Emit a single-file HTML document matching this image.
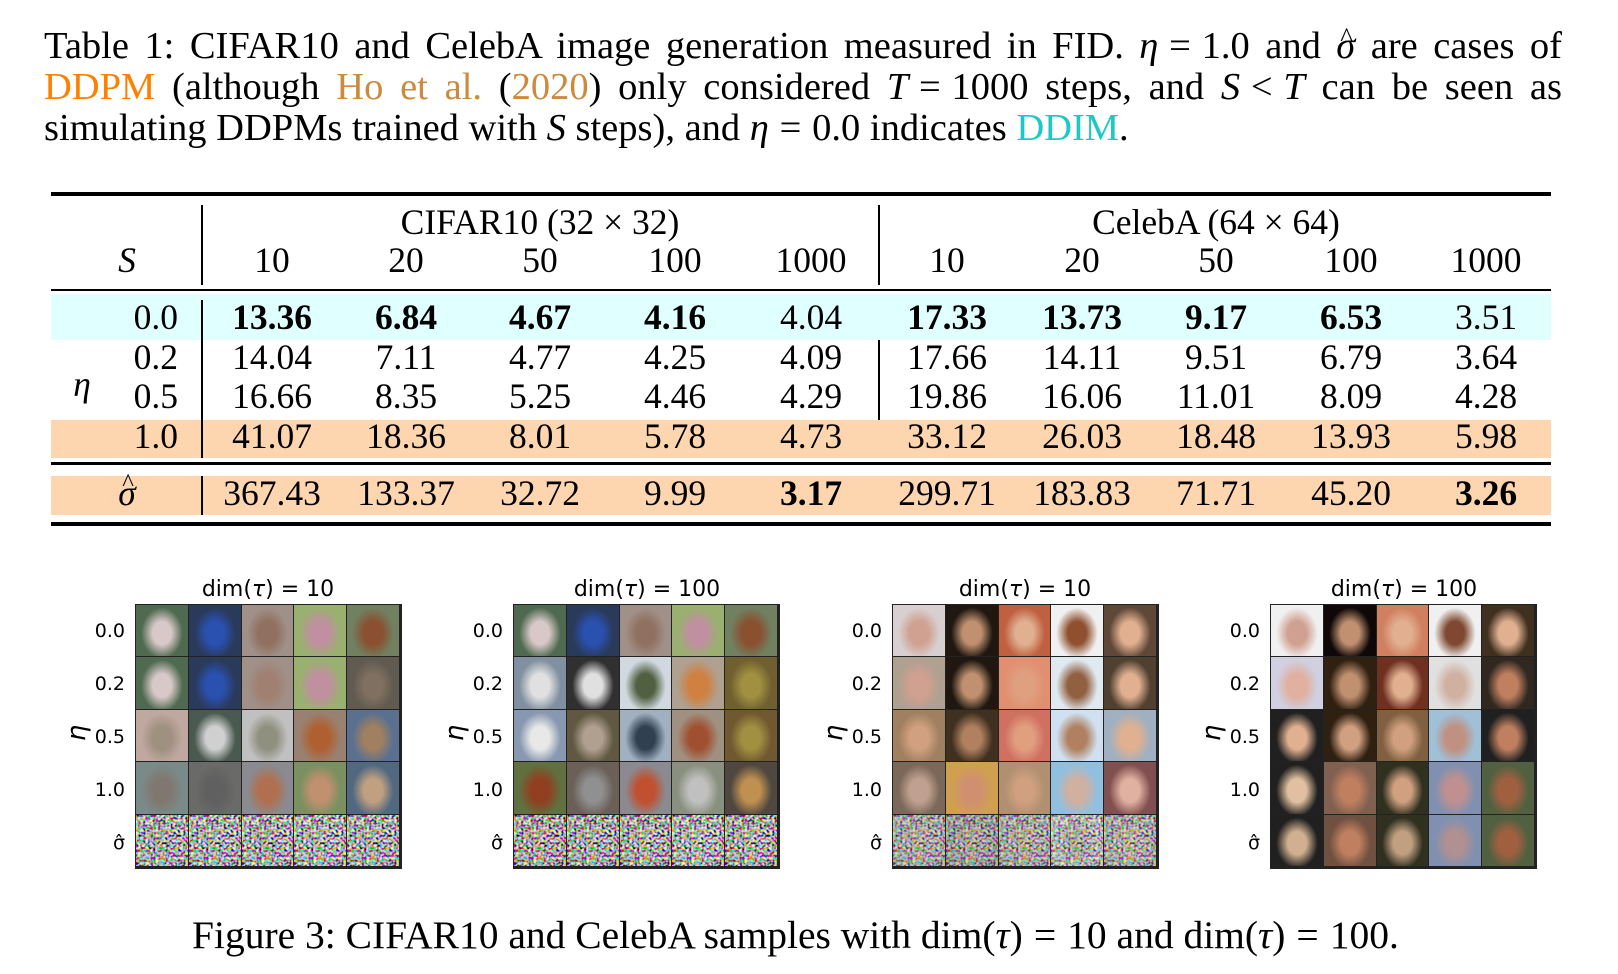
<!DOCTYPE html>
<html><head><meta charset="utf-8">
<style>
html,body{margin:0;padding:0;background:#fff;}
#page{position:relative;width:1618px;height:974px;overflow:hidden;font-family:"Liberation Serif",serif;color:#000;}
.cl{position:absolute;left:44px;width:1518px;font-size:38.5px;line-height:41px;text-align:justify;text-align-last:justify;white-space:nowrap}
.i{font-style:italic}
.op{margin:0 0.28em}
.or{color:#ff8000}.br{color:#cc8a3c}.cy{color:#1ec8c8}
.hat{position:relative;display:inline-block;font-style:italic}
.hat::after{content:"^";position:absolute;left:4px;top:-9px;font-style:normal;font-size:0.7em}
.rule{position:absolute;left:51px;width:1500px;background:#000}
.band{position:absolute;left:51px;width:1500px}
.vl{position:absolute;width:1.5px;background:#000}
.t{position:absolute;font-size:35.5px;line-height:38px;transform:translateX(-50%);white-space:nowrap}
.b{font-weight:bold}
.rl{position:absolute;font-size:35.5px;line-height:38px;right:1440px;white-space:nowrap}
.ptitle{position:absolute;font-family:"DejaVu Sans",sans-serif;font-size:22px;transform:translateX(-50%);white-space:nowrap;top:577px}
.plab{position:absolute;font-family:"DejaVu Sans",sans-serif;font-size:19px;line-height:22px;text-align:right;width:44px}
.peta{position:absolute;font-family:"DejaVu Sans",sans-serif;font-size:26px;font-style:italic;transform:rotate(-90deg)}
.grid{position:absolute;top:604px;width:267px;height:265px;border:1.5px solid #222;box-sizing:border-box;background:#222}
.fcap{position:absolute;left:192px;top:915px;font-size:39.5px;line-height:40px;white-space:nowrap}
</style></head>
<body>
<div id="page">
<div>
<div class="cl" style="top:26px">Table 1: CIFAR10 and CelebA image generation measured in FID. <span class="i">η</span><span class="op">=</span>1.0 and <span class="hat">σ</span> are cases of</div>
<div class="cl" style="top:67px"><span class="or">DDPM</span> (although <span class="br">Ho et al.</span> (<span class="br">2020</span>) only considered <span class="i">T</span><span class="op">=</span>1000 steps, and <span class="i">S</span><span class="op">&lt;</span><span class="i">T</span> can be seen as</div>
<div class="cl" style="top:108px;text-align-last:left">simulating DDPMs trained with <span class="i">S</span> steps), and <span class="i">η</span><span class="op">=</span>0.0 indicates <span class="cy">DDIM</span>.</div>
</div>

<!-- table -->
<div class="band" style="top:294px;height:46px;background:#e0ffff"></div>
<div class="band" style="top:420px;height:38px;background:#fdd6b0"></div>
<div class="band" style="top:476px;height:39px;background:#fdd6b0"></div>
<div class="rule" style="top:192px;height:4px"></div>
<div class="rule" style="top:289px;height:2px"></div>
<div class="rule" style="top:462px;height:3px"></div>
<div class="rule" style="top:522px;height:4px"></div>
<div class="vl" style="left:201px;top:205px;height:80px"></div>
<div class="vl" style="left:201px;top:300px;height:158px"></div>
<div class="vl" style="left:201px;top:476px;height:39px"></div>
<div class="vl" style="left:878px;top:205px;height:80px"></div>
<div class="vl" style="left:878px;top:340px;height:80px"></div>

<div class="t" style="left:540px;top:203px">CIFAR10 (32 × 32)</div>
<div class="t" style="left:1216px;top:203px">CelebA (64 × 64)</div>
<div class="t i" style="left:127px;top:241px">S</div>
<div class="t i" style="left:82px;top:365px">η</div>

<div>
<div class="t" style="left:272px;top:241px">10</div><div class="t" style="left:406px;top:241px">20</div><div class="t" style="left:540px;top:241px">50</div><div class="t" style="left:675px;top:241px">100</div><div class="t" style="left:811px;top:241px">1000</div>
<div class="t" style="left:947px;top:241px">10</div><div class="t" style="left:1082px;top:241px">20</div><div class="t" style="left:1216px;top:241px">50</div><div class="t" style="left:1351px;top:241px">100</div><div class="t" style="left:1486px;top:241px">1000</div>
</div>
<div>
<div class="rl" style="top:298px">0.0</div>
<div class="t b" style="left:272px;top:298px">13.36</div><div class="t b" style="left:406px;top:298px">6.84</div><div class="t b" style="left:540px;top:298px">4.67</div><div class="t b" style="left:675px;top:298px">4.16</div><div class="t" style="left:811px;top:298px">4.04</div>
<div class="t b" style="left:947px;top:298px">17.33</div><div class="t b" style="left:1082px;top:298px">13.73</div><div class="t b" style="left:1216px;top:298px">9.17</div><div class="t b" style="left:1351px;top:298px">6.53</div><div class="t" style="left:1486px;top:298px">3.51</div>
</div>
<div>
<div class="rl" style="top:338px">0.2</div>
<div class="t" style="left:272px;top:338px">14.04</div><div class="t" style="left:406px;top:338px">7.11</div><div class="t" style="left:540px;top:338px">4.77</div><div class="t" style="left:675px;top:338px">4.25</div><div class="t" style="left:811px;top:338px">4.09</div>
<div class="t" style="left:947px;top:338px">17.66</div><div class="t" style="left:1082px;top:338px">14.11</div><div class="t" style="left:1216px;top:338px">9.51</div><div class="t" style="left:1351px;top:338px">6.79</div><div class="t" style="left:1486px;top:338px">3.64</div>
</div>
<div>
<div class="rl" style="top:377px">0.5</div>
<div class="t" style="left:272px;top:377px">16.66</div><div class="t" style="left:406px;top:377px">8.35</div><div class="t" style="left:540px;top:377px">5.25</div><div class="t" style="left:675px;top:377px">4.46</div><div class="t" style="left:811px;top:377px">4.29</div>
<div class="t" style="left:947px;top:377px">19.86</div><div class="t" style="left:1082px;top:377px">16.06</div><div class="t" style="left:1216px;top:377px">11.01</div><div class="t" style="left:1351px;top:377px">8.09</div><div class="t" style="left:1486px;top:377px">4.28</div>
</div>
<div>
<div class="rl" style="top:417px">1.0</div>
<div class="t" style="left:272px;top:417px">41.07</div><div class="t" style="left:406px;top:417px">18.36</div><div class="t" style="left:540px;top:417px">8.01</div><div class="t" style="left:675px;top:417px">5.78</div><div class="t" style="left:811px;top:417px">4.73</div>
<div class="t" style="left:947px;top:417px">33.12</div><div class="t" style="left:1082px;top:417px">26.03</div><div class="t" style="left:1216px;top:417px">18.48</div><div class="t" style="left:1351px;top:417px">13.93</div><div class="t" style="left:1486px;top:417px">5.98</div>
</div>
<div>
<div class="t" style="left:127px;top:474px"><span class="hat">σ</span></div>
<div class="t" style="left:272px;top:474px">367.43</div><div class="t" style="left:406px;top:474px">133.37</div><div class="t" style="left:540px;top:474px">32.72</div><div class="t" style="left:675px;top:474px">9.99</div><div class="t b" style="left:811px;top:474px">3.17</div>
<div class="t" style="left:947px;top:474px">299.71</div><div class="t" style="left:1082px;top:474px">183.83</div><div class="t" style="left:1216px;top:474px">71.71</div><div class="t" style="left:1351px;top:474px">45.20</div><div class="t b" style="left:1486px;top:474px">3.26</div>
</div>

<!-- figure panels -->
<div class="ptitle" style="left:268px">dim(<i>τ</i>) = 10</div>
<div class="ptitle" style="left:647px">dim(<i>τ</i>) = 100</div>
<div class="ptitle" style="left:1025px">dim(<i>τ</i>) = 10</div>
<div class="ptitle" style="left:1404px">dim(<i>τ</i>) = 100</div>
<div id="labels"></div>
<div class="grid" id="g0" style="left:135px"></div>
<div class="grid" id="g1" style="left:513px"></div>
<div class="grid" id="g2" style="left:892px"></div>
<div class="grid" id="g3" style="left:1270px"></div>

<div class="fcap">Figure 3: CIFAR10 and CelebA samples with dim(<i>τ</i>)<span class="op">=</span>10 and dim(<i>τ</i>)<span class="op">=</span>100.</div>

<svg width="0" height="0" style="position:absolute">
<filter id="nz" x="0" y="0" width="100%" height="100%"><feTurbulence type="fractalNoise" baseFrequency="0.4" numOctaves="1" seed="3"/><feColorMatrix type="matrix" values="4 0 0 0 -1.5  0 4 0 0 -1.5  0 0 4 0 -1.5  0 0 0 0 1"/></filter>
</svg>
</div>
<script>
const rowLabels=['0.0','0.2','0.5','1.0','σ̂'];
const panels=[
[[['#4f6a50','#d8c8c8'],['#2a3a5a','#2a50b0'],['#a09088','#907060'],['#9ab070','#c090a0'],['#708060','#8a5030']],
 [['#4f6a50','#d8c8c8'],['#2a3a5a','#2a50b0'],['#a09088','#a08070'],['#9ab070','#c090a0'],['#605a50','#807060']],
 [['#c0a8a0','#a09080'],['#4a5a50','#d0d0d0'],['#c0c0c0','#909080'],['#9a8070','#b06030'],['#5a7090','#a08060']],
 [['#7a8a88','#807870'],['#6a6a68','#606060'],['#8a8a90','#b07050'],['#7a9060','#c09070'],['#506880','#c0a080']],
 [['#808080','#604040'],['#808080','#607080'],['#909090','#503030'],['#909090','#808070'],['#707070','#605050']]],
[[['#4f6a50','#d8c8c8'],['#2a3a5a','#2a50b0'],['#a09088','#907060'],['#9ab070','#c090a0'],['#708060','#8a5030']],
 [['#8090a0','#e0e0e0'],['#303030','#e0e0e0'],['#d0d8e0','#506040'],['#b0a090','#d08040'],['#706030','#a09040']],
 [['#8898b0','#e8e8e8'],['#605840','#b0a090'],['#a0b0c0','#304050'],['#a09080','#a05030'],['#705830','#a09040']],
 [['#607040','#904020'],['#6a6058','#909090'],['#8a8a90','#c05030'],['#8a9080','#c0c0c0'],['#504840','#c09050']],
 [['#604030','#d02020'],['#505040','#706050'],['#604830','#a08040'],['#909880','#a0a090'],['#503828','#a07050']]],
[[['#d8d0d0','#d0a090'],['#201810','#c09070'],['#c06040','#e0b090'],['#f0f0f0','#905030'],['#604838','#e0b090']],
 [['#b0a090','#d0a090'],['#201810','#c09070'],['#e09070','#e0a080'],['#e0e8f0','#906040'],['#504030','#e0b090']],
 [['#a08060','#d0a080'],['#403020','#b08060'],['#d07060','#e0a080'],['#d0e0f0','#b08060'],['#a0b0c0','#e0b090']],
 [['#7a6858','#c0a090'],['#d0a050','#d09070'],['#b09070','#d0a080'],['#90c0e0','#d0b0a0'],['#805050','#e0b0a0']],
 [['#909090','#b09080'],['#707070','#a08070'],['#909090','#b09070'],['#c0c0c0','#a09080'],['#909090','#c0a080']]],
[[['#f0f0f0','#d0a090'],['#100808','#c09070'],['#d08060','#e0b090'],['#f0f0f0','#804830'],['#403020','#e0b090']],
 [['#d0d0e0','#e0b0a0'],['#302010','#c09070'],['#703020','#e0b090'],['#e0e0e0','#d0b0a0'],['#302820','#c08060']],
 [['#202020','#e0b090'],['#302010','#d0a080'],['#806040','#d0a080'],['#a0c0d8','#c09080'],['#202020','#c08060']],
 [['#202020','#e0c0a0'],['#806050','#c08060'],['#303020','#d0a080'],['#8090b0','#c09090'],['#506040','#a06040']],
 [['#202020','#d0b090'],['#705040','#c08060'],['#303020','#c0a080'],['#8090b0','#b09090'],['#506040','#a06040']]]
];
const lefts=[135,513,892,1270];
const labs=document.getElementById('labels');
const cw=264/5, ch=262/5;
panels.forEach((p,pi)=>{
  const g=document.getElementById('g'+pi);
  p.forEach((row,ri)=>{
    row.forEach((c,ci)=>{
      const d=document.createElement('div');
      
      
      d.style.cssText=`position:absolute;left:${ci*cw}px;top:${ri*ch}px;width:${cw-1}px;height:${ch-1}px;background:radial-gradient(ellipse 40% 50% at 50% 55%,${c[1]} 0%,${c[1]} 45%,${c[0]} 100%);overflow:hidden`;
      if(ri===4 && pi<3){
        const n=document.createElementNS('http://www.w3.org/2000/svg','svg');
        n.setAttribute('width','100%');n.setAttribute('height','100%');
        n.style.cssText='position:absolute;left:0;top:0;opacity:'+(pi<2?0.9:0.65);
        n.innerHTML='<rect width="100%" height="100%" filter="url(#nz)"/>';
        d.appendChild(n);
      }
      g.appendChild(d);
    });
  });
  rowLabels.forEach((t,ri)=>{
    const l=document.createElement('div');
    
    
    l.className='plab';
    l.textContent=t;
    l.style.left=(lefts[pi]-54)+'px';
    l.style.top=(604+ri*53+16)+'px';
    labs.appendChild(l);
  });
  const e=document.createElement('div');
  
  
  e.className='peta';
  e.textContent='η';
  e.style.left=(lefts[pi]-66)+'px';
  e.style.top='718px';
  labs.appendChild(e);
});
</script>
</body></html>
